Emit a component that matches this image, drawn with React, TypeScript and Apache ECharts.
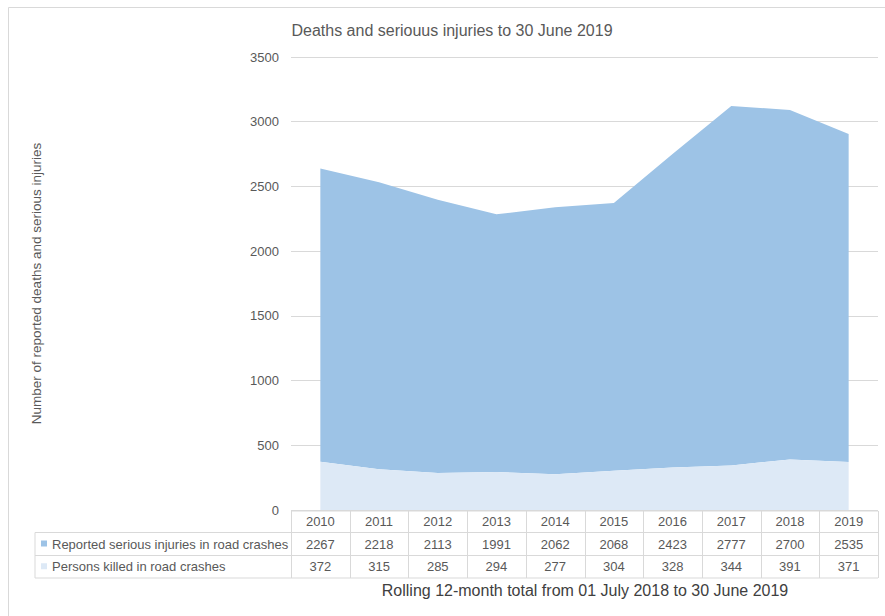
import React, { useEffect, useRef } from "react";
import * as echarts from "echarts";

const years = ["2010", "2011", "2012", "2013", "2014", "2015", "2016", "2017", "2018", "2019"];
const injuries = [2267, 2218, 2113, 1991, 2062, 2068, 2423, 2777, 2700, 2535];
const killed = [372, 315, 285, 294, 277, 304, 328, 344, 391, 371];
const seriesNames = ["Reported serious injuries in road crashes", "Persons killed in road crashes"];
const yTicks = { min: 0, max: 3500, interval: 500 };
const titleText = "Deaths and seriouus injuries to 30 June 2019";
const xTitle = "Rolling 12-month total from 01 July 2018 to 30 June 2019";
const yTitle = "Number of reported deaths and serious injuries";

const W = 885;
const H = 616;
const gridLeft = 291;
const gridRight = 878;
const gridTop = 57;
const gridBottom = 510;
const injColor = "#9dc3e6";
const killColor = "#dde9f6";
const border = "#d9d9d9";
const textGray = "#595959";
const sans = "Liberation Sans";

function buildTable(): any[] {
  const els: any[] = [];
  const colW = (gridRight - gridLeft) / years.length;
  const rowY = [511, 532.5, 555.5, 578];
  const labelLeft = 35;
  const line = (x1: number, y1: number, x2: number, y2: number) => ({
    type: "line",
    shape: { x1, y1, x2, y2 },
    style: { stroke: border, lineWidth: 1 },
    silent: true,
  });
  els.push(line(gridLeft, rowY[0], gridRight, rowY[0]));
  for (let r = 1; r < rowY.length; r++) els.push(line(labelLeft, rowY[r], gridRight, rowY[r]));
  els.push(line(labelLeft, rowY[1], labelLeft, rowY[3]));
  for (let c = 0; c <= years.length; c++) {
    const x = Math.round(gridLeft + c * colW) + 0.5;
    els.push(line(x, rowY[0], x, rowY[3]));
  }
  const rowsData = [years, injuries.map(String), killed.map(String)];
  rowsData.forEach((row, r) => {
    const cy = (rowY[r] + rowY[r + 1]) / 2;
    row.forEach((v, c) => {
      els.push({
        type: "text",
        x: gridLeft + (c + 0.5) * colW,
        y: cy,
        style: {
          text: v,
          fill: textGray,
          fontFamily: sans,
          fontSize: 13,
          align: "center",
          verticalAlign: "middle",
        },
        silent: true,
      });
    });
  });
  const colors = [injColor, killColor];
  seriesNames.forEach((name, i) => {
    const cy = (rowY[i + 1] + rowY[i + 2]) / 2;
    els.push({
      type: "rect",
      shape: { x: 41, y: cy - 3.5, width: 6, height: 6 },
      style: { fill: colors[i] },
      silent: true,
    });
    els.push({
      type: "text",
      x: 52,
      y: cy,
      style: {
        text: name,
        fill: textGray,
        fontFamily: sans,
        fontSize: 13,
        align: "left",
        verticalAlign: "middle",
      },
      silent: true,
    });
  });
  return els;
}

export default function App() {
  const ref = useRef<HTMLDivElement>(null);
  useEffect(() => {
    document.body.style.margin = "0";
    if (!ref.current) return;
    const chart = echarts.init(ref.current, undefined, { renderer: "svg" });
    chart.setOption({
      animation: false,
      backgroundColor: "#ffffff",
      grid: {
        left: gridLeft,
        right: W - gridRight,
        top: gridTop,
        bottom: H - gridBottom,
        containLabel: false,
      },
      xAxis: {
        type: "category",
        data: years,
        boundaryGap: true,
        axisLine: { show: false },
        axisTick: { show: false },
        axisLabel: { show: false },
      },
      yAxis: {
        type: "value",
        min: yTicks.min,
        max: yTicks.max,
        interval: yTicks.interval,
        name: yTitle,
        nameLocation: "middle",
        nameGap: 248,
        nameRotate: 90,
        nameTextStyle: { color: textGray, fontSize: 13.5, fontFamily: sans },
        axisLine: { show: false },
        axisTick: { show: false },
        axisLabel: {
          color: textGray,
          fontSize: 13,
          margin: 12,
          fontFamily: sans,
          formatter: (v: number) => String(v),
        },
        splitLine: { lineStyle: { color: border, width: 1 } },
      },
      series: [
        {
          name: seriesNames[1],
          type: "line",
          stack: "total",
          data: killed,
          symbol: "none",
          lineStyle: { width: 0 },
          areaStyle: { color: killColor, opacity: 1 },
          z: 3,
        },
        {
          name: seriesNames[0],
          type: "line",
          stack: "total",
          data: injuries,
          symbol: "none",
          lineStyle: { width: 0 },
          areaStyle: { color: injColor, opacity: 1 },
          z: 2,
        },
      ],
      graphic: [
        {
          type: "rect",
          shape: { x: 8.5, y: 7.5, width: 1000, height: 1000 },
          style: { fill: "none", stroke: border, lineWidth: 1 },
          silent: true,
          z: -1,
        },
        {
          type: "text",
          x: 452,
          y: 30,
          style: {
            text: titleText,
            fill: textGray,
            fontFamily: sans,
            fontSize: 16,
            align: "center",
            verticalAlign: "middle",
          },
          silent: true,
        },
        {
          type: "text",
          x: 585,
          y: 590,
          style: {
            text: xTitle,
            fill: "#404040",
            fontFamily: sans,
            fontSize: 16,
            align: "center",
            verticalAlign: "middle",
          },
          silent: true,
        },
        ...buildTable(),
      ],
    });
    return () => chart.dispose();
  }, []);
  return <div ref={ref} style={{ width: W, height: H }} />;
}
